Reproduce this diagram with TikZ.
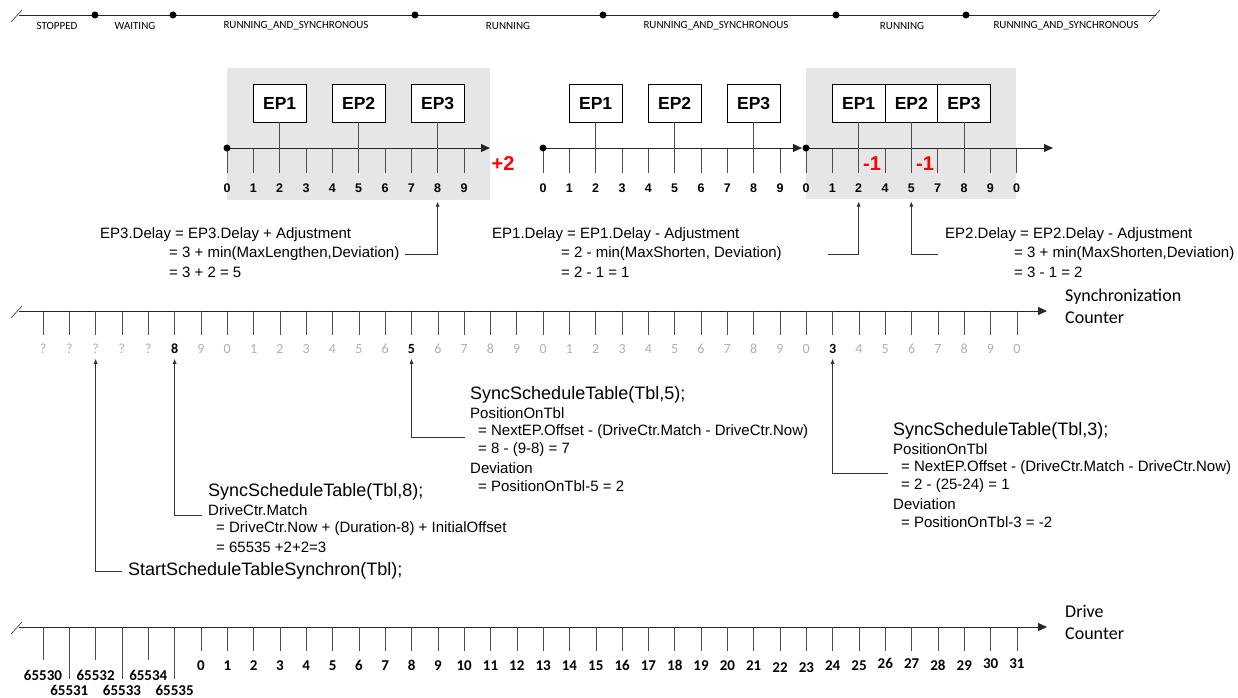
\documentclass[tikz,border=0pt]{standalone}
\usepackage{fontspec}
\setmainfont{Liberation Sans}
\newfontfamily\carl[Numbers=Lining]{Carlito}
\usetikzlibrary{arrows.meta}
\definecolor{boxgray}{HTML}{E6E6E6}
\definecolor{lblgray}{HTML}{AFAFAF}
\begin{document}
\begin{tikzpicture}[x=1pt,y=-1pt,
  every node/.style={inner sep=2pt},
  statelbl/.style={font=\carl\fontsize{11}{13}\selectfont},
  epbox/.style={draw, fill=white, minimum width=53pt, minimum height=38pt, font=\bfseries\fontsize{17.5}{20}\selectfont, inner sep=0pt},
  epboxn/.style={epbox, minimum width=52.67pt},
  blnum/.style={font=\bfseries\fontsize{12.5}{15}\selectfont},
  tickl/.style={draw=black!70, line width=0.6pt},
  axisl/.style={draw=black!85, line width=0.8pt},
  arrtip/.style={-{Triangle[length=9pt,width=8pt]}},
  redlbl/.style={text=red, font=\bfseries\fontsize{20}{24}\selectfont},
  ftxt/.style={anchor=west, font=\fontsize{15}{18}\selectfont, inner sep=0pt},
  fbig/.style={anchor=west, font=\fontsize{18}{22}\selectfont, inner sep=0pt},
  synclbl/.style={anchor=base, font=\carl\fontsize{14}{16}\selectfont, text=lblgray},
  syncsel/.style={anchor=base, font=\carl\bfseries\fontsize{14}{16}\selectfont, text=black},
  drvlbl/.style={anchor=base, font=\carl\bfseries\fontsize{15}{17}\selectfont},
  axlbl/.style={anchor=west, align=left, font=\carl\fontsize{18}{22}\selectfont},
  conn/.style={draw=black!80, line width=0.6pt},
  upar/.style={conn, -{Latex[length=5pt,width=4pt]}},
  dotn/.style={circle, fill=black, inner sep=0pt, minimum size=7pt},
]
\useasboundingbox (0,0) rectangle (1238,697);

% ---------- state timeline ----------
\draw[axisl] (19,15) -- (1156,15);
\draw[conn] (11,22) -- (22,10);
\draw[conn] (1149,22) -- (1160,10);
\foreach \x/\n in {95/d1,173/d2,415/d3,603/d4,836/d5,966/d6} \node[dotn] (\n) at (\x,15) {};
\node[statelbl] (st1) at (57,26) {STOPPED};
\node[statelbl] (st2) at (135,26) {WAITING};
\node[statelbl] (st3) at (296,26) {RUNNING\_AND\_SYNCHRONOUS};
\node[statelbl] (st4) at (508,26) {RUNNING};
\node[statelbl] (st5) at (716,26) {RUNNING\_AND\_SYNCHRONOUS};
\node[statelbl] (st6) at (902,26) {RUNNING};
\node[statelbl] (st7) at (1066,26) {RUNNING\_AND\_SYNCHRONOUS};

% ---------- block 1 ----------
\fill[boxgray] (227,68) rectangle (490,200);
\foreach \i in {0,...,9} {
  \draw[tickl] ({227+\i*26.33},148) -- ++(0,25);
  \node[blnum] (a\i) at ({227+\i*26.33},188) {\i};
}
\draw[axisl,arrtip] (227,148) -- (490,148);
\node[dotn] (a0d) at (227,148) {};
\node[epbox] (ea1) at ({227+2*26.33},103) {EP1};
\node[epbox] (ea2) at ({227+5*26.33},103) {EP2};
\node[epbox] (ea3) at ({227+8*26.33},103) {EP3};
\foreach \n in {ea1,ea2,ea3} \draw[tickl] (\n.south) -- (\n.south |- 0,173);
\node[redlbl] (plus2) at (503,164) {+2};

% ---------- block 2 ----------
\foreach \i in {0,...,9} {
  \draw[tickl] ({543+\i*26.33},148) -- ++(0,25);
  \node[blnum] (b\i) at ({543+\i*26.33},188) {\i};
}
\draw[axisl,arrtip] (543,148) -- (802,148);
\node[dotn] (b0d) at (543,148) {};
\node[epbox] (eb1) at ({543+2*26.33},103) {EP1};
\node[epbox] (eb2) at ({543+5*26.33},103) {EP2};
\node[epbox] (eb3) at ({543+8*26.33},103) {EP3};
\foreach \n in {eb1,eb2,eb3} \draw[tickl] (\n.south) -- (\n.south |- 0,173);

% ---------- block 3 ----------
\fill[boxgray] (806,68) rectangle (1016,199);
\foreach \v [count=\i from 0] in {0,1,2,4,5,7,8,9,0} {
  \draw[tickl] ({806+\i*26.33},148) -- ++(0,25);
  \node[blnum] (c\i) at ({806+\i*26.33},188) {\v};
}
\draw[axisl,arrtip] (806,148) -- (1053,148);
\node[dotn] (c0d) at (806,148) {};
\node[epboxn] (ec1) at ({806+2*26.33},103) {EP1};
\node[epboxn] (ec2) at ({806+4*26.33},103) {EP2};
\node[epboxn] (ec3) at ({806+6*26.33},103) {EP3};
\foreach \n in {ec1,ec2,ec3} \draw[tickl] (\n.south) -- (\n.south |- 0,173);
\node[redlbl] (m1a) at (872,164) {-1};
\node[redlbl] (m1b) at (925,164) {-1};

% ---------- formulas ----------
\node[ftxt] (f1a) at (100,235) {EP3.Delay = EP3.Delay + Adjustment};
\node[ftxt] (f1b) at (169,254) {= 3 + min(MaxLengthen,Deviation)};
\node[ftxt] (f1c) at (169,272) {= 3 + 2 = 5};
\draw[upar] ([xshift=5pt]f1b.east) -| ([yshift=-7pt]a8.south);

\node[ftxt] (f2a) at (492,235) {EP1.Delay = EP1.Delay - Adjustment};
\node[ftxt] (f2b) at (561,254) {= 2 - min(MaxShorten, Deviation)};
\node[ftxt] (f2c) at (561,272) {= 2 - 1 = 1};
\coordinate (k2) at (828,254);
\draw[upar] (k2) -| ([yshift=-7pt]c2.south);

\node[ftxt] (f3a) at (945,235) {EP2.Delay = EP2.Delay - Adjustment};
\node[ftxt] (f3b) at (1014,254) {= 3 + min(MaxShorten,Deviation)};
\node[ftxt] (f3c) at (1014,272) {= 3 - 1 = 2};
\coordinate (k3) at (938,254);
\draw[upar] (k3) -| ([yshift=-7pt]c4.south);

% ---------- synchronization counter ----------
\draw[axisl,arrtip] (19,311) -- (1047,311);
\draw[conn] (11,318) -- (22,306);
\foreach \v [count=\i from 0] in {?,?,?,?,?,8,9,0,1,2,3,4,5,6,5,6,7,8,9,0,1,2,3,4,5,6,7,8,9,0,3,4,5,6,7,8,9,0} {
  \ifnum\i=5 \def\st{syncsel}\else\ifnum\i=14 \def\st{syncsel}\else\ifnum\i=30 \def\st{syncsel}\else\def\st{synclbl}\fi\fi\fi
  \draw[tickl] ({43+\i*26.32},311) -- ++(0,24);
  \node[\st] (s\i) at ({43+\i*26.32},353.5) {\v};
}
\node[axlbl] (synclab) at (1063,306) {Synchronization\\Counter};

\node[fbig] (t5a) at (470,395) {SyncScheduleTable(Tbl,5);};
\node[ftxt] (t5b) at (470,413) {PositionOnTbl};
\node[ftxt] (t5c) at (478,432) {= NextEP.Offset - (DriveCtr.Match - DriveCtr.Now)};
\node[ftxt] (t5d) at (478,450) {= 8 - (9-8) = 7};
\node[ftxt] (t5e) at (470,468) {Deviation};
\node[ftxt] (t5f) at (478,486) {= PositionOnTbl-5 = 2};
\coordinate (k5) at (465,437);
\draw[upar] (k5) -| ([yshift=-3pt]s14.south);

\node[fbig] (t3a) at (893,431) {SyncScheduleTable(Tbl,3);};
\node[ftxt] (t3b) at (893,449) {PositionOnTbl};
\node[ftxt] (t3c) at (901,468) {= NextEP.Offset - (DriveCtr.Match - DriveCtr.Now)};
\node[ftxt] (t3d) at (901,486) {= 2 - (25-24) = 1};
\node[ftxt] (t3e) at (893,504) {Deviation};
\node[ftxt] (t3f) at (901,522) {= PositionOnTbl-3 = -2};
\coordinate (k6) at (888,473);
\draw[upar] (k6) -| ([yshift=-3pt]s30.south);

\node[fbig] (t8a) at (208,492) {SyncScheduleTable(Tbl,8);};
\node[ftxt] (t8b) at (208,510) {DriveCtr.Match};
\node[ftxt] (t8c) at (216,529) {= DriveCtr.Now + (Duration-8) + InitialOffset};
\node[ftxt] (t8d) at (216,547) {= 65535 +2+2=3};
\coordinate (k8) at (202,515);
\draw[upar] (k8) -| ([yshift=-3pt]s5.south);

\node[fbig] (tst) at (128,571) {StartScheduleTableSynchron(Tbl);};
\draw[upar] ([xshift=-6pt]tst.west) -| ([yshift=-3pt]s2.south);

% ---------- drive counter ----------
\draw[axisl,arrtip] (19,627) -- (1047,627);
\draw[conn] (11,634) -- (22,622);
\foreach \i in {0,...,5} {
  \edef\v{\the\numexpr65530+\i\relax}
  \ifodd\i\relax
    \draw[tickl] ({43+\i*26.32},627) -- ++(0,52);
    \node[drvlbl] (dw\i) at ({43+\i*26.32},695) {\v};
  \else
    \draw[tickl] ({43+\i*26.32},627) -- ++(0,33);
    \node[drvlbl] (dw\i) at ({43+\i*26.32},680) {\v};
  \fi
}
\foreach \i/\dy in {0/0,1/0,2/0,3/0,4/0,5/0,6/0,7/0,8/0,9/0,10/0,11/0,12/0,13/0,14/0,15/0,16/0,17/0,18/0,19/0,20/0,21/0,22/2,23/2,24/0,25/0,26/-2,27/-2,28/0,29/0,30/-2,31/-2} {
  \draw[tickl] ({201+\i*26.32},627) -- ++(0,24);
  \node[drvlbl] (dn\i) at ({201+\i*26.32},{670+\dy}) {\i};
}
\node[axlbl] (drvlab) at (1063,622) {Drive\\Counter};
\end{tikzpicture}
\end{document}
